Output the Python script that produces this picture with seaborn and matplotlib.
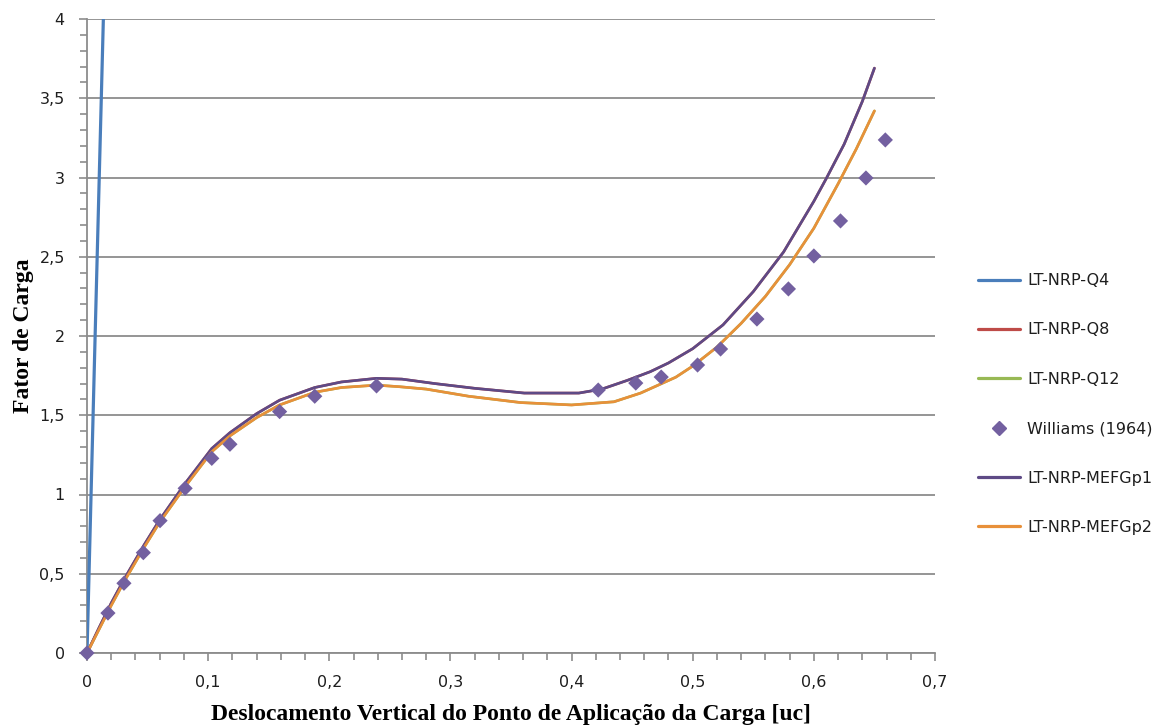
import numpy as np
import pandas as pd
import matplotlib
matplotlib.use("Agg")
import matplotlib.pyplot as plt
import seaborn as sns
from matplotlib.ticker import MultipleLocator, FuncFormatter
from matplotlib.lines import Line2D

# ---------------- data ----------------
q4_x = [0.0, 0.0067, 0.0135, 0.0143]
q4_y = [0.0, 2.0, 4.0, 4.25]

mefgp1_x = [0, 0.01, 0.02, 0.031, 0.047, 0.060, 0.081, 0.103, 0.118, 0.14, 0.159, 0.188,
            0.21, 0.239, 0.26, 0.287, 0.32, 0.361, 0.406, 0.425, 0.446, 0.465, 0.48,
            0.50, 0.525, 0.55, 0.575, 0.60, 0.61, 0.625, 0.64, 0.65]
mefgp1_y = [0, 0.16, 0.315, 0.47, 0.68, 0.84, 1.07, 1.29, 1.39, 1.51, 1.595, 1.675,
            1.71, 1.733, 1.728, 1.70, 1.67, 1.64, 1.64, 1.665, 1.72, 1.775, 1.83,
            1.92, 2.07, 2.28, 2.53, 2.85, 2.99, 3.21, 3.48, 3.69]

mefgp2_x = [0, 0.01, 0.02, 0.031, 0.047, 0.060, 0.081, 0.103, 0.118, 0.14, 0.159, 0.188,
            0.21, 0.239, 0.258, 0.28, 0.315, 0.358, 0.40, 0.435, 0.457, 0.486, 0.50,
            0.52, 0.54, 0.56, 0.58, 0.60, 0.62, 0.635, 0.65]
mefgp2_y = [0, 0.15, 0.30, 0.455, 0.665, 0.825, 1.05, 1.27, 1.37, 1.485, 1.565, 1.645,
            1.675, 1.69, 1.68, 1.665, 1.62, 1.58, 1.565, 1.585, 1.64, 1.74, 1.81,
            1.93, 2.08, 2.25, 2.45, 2.68, 2.96, 3.18, 3.42]

# Q8 and Q12 lie underneath MEFGp1 and MEFGp2 respectively
q8_x = list(mefgp1_x)
q8_y = list(mefgp1_y)
q12_x = list(mefgp2_x)
q12_y = list(mefgp2_y)

williams_x = [0.0, 0.0173, 0.0305, 0.0465, 0.0603, 0.081, 0.103, 0.118, 0.159, 0.188,
              0.239, 0.422, 0.453, 0.474, 0.504, 0.523, 0.553, 0.579, 0.600, 0.622,
              0.643, 0.659]
williams_y = [0.0, 0.252, 0.44, 0.633, 0.835, 1.039, 1.228, 1.317, 1.523, 1.62,
              1.685, 1.659, 1.703, 1.741, 1.817, 1.918, 2.107, 2.297, 2.505, 2.726,
              2.997, 3.237]

labels = ["LT-NRP-Q4", "LT-NRP-Q8", "LT-NRP-Q12", "Williams (1964)",
          "LT-NRP-MEFGp1", "LT-NRP-MEFGp2"]
x_label = "Deslocamento Vertical do Ponto de Aplicação da Carga [uc]"
y_label = "Fator de Carga"

# ---------------- styling ----------------
sns.set_theme(style="white")
plt.rcParams['font.family'] = ['DejaVu Sans']

C_BLUE = "#4A7EBB"
C_RED = "#BE4B48"
C_GREEN = "#98B954"
C_PURPLE_M = "#7360A0"
C_PURPLE = "#5E4A86"
C_ORANGE = "#E8903A"
GRID = "#8C8C8C"
TXT = "#1E1E1E"

fig = plt.figure(figsize=(11.70, 7.26), dpi=100)
ax = fig.add_axes([87 / 1170, 1 - 653 / 726, (935 - 87) / 1170, (653 - 19) / 726])

def line(xs, ys, color, lw, z):
    df = pd.DataFrame({"x": xs, "y": ys})
    sns.lineplot(data=df, x="x", y="y", ax=ax, color=color, linewidth=lw,
                 sort=False, estimator=None, zorder=z)

line(q4_x, q4_y, C_BLUE, 2.3, 3)
line(q8_x, q8_y, C_RED, 1.9, 3)
line(q12_x, q12_y, C_GREEN, 1.9, 3)
line(mefgp1_x, mefgp1_y, C_PURPLE, 1.9, 4)
line(mefgp2_x, mefgp2_y, C_ORANGE, 1.9, 4)

wdf = pd.DataFrame({"x": williams_x, "y": williams_y})
sns.scatterplot(data=wdf, x="x", y="y", ax=ax, marker="D", s=60, color=C_PURPLE_M,
                edgecolor="none", linewidth=0, zorder=5, clip_on=False)

ax.set_xlim(0, 0.7)
ax.set_ylim(0, 4)

ax.xaxis.set_major_locator(MultipleLocator(0.1))
ax.xaxis.set_minor_locator(MultipleLocator(0.02))
ax.yaxis.set_major_locator(MultipleLocator(0.5))
ax.yaxis.set_minor_locator(MultipleLocator(0.1))

def comma_fmt(v, pos):
    s = f"{v:.1f}".rstrip("0").rstrip(".")
    return s.replace(".", ",")

ax.xaxis.set_major_formatter(FuncFormatter(comma_fmt))
ax.yaxis.set_major_formatter(FuncFormatter(comma_fmt))

ax.tick_params(axis="both", which="both", direction="out", color=GRID,
               labelcolor=TXT, labelsize=11.5)
ax.tick_params(axis="both", which="major", length=6, width=1.2, pad=10)
ax.tick_params(axis="both", which="minor", length=5, width=1.2)
ax.tick_params(axis="x", which="both", bottom=True)
ax.tick_params(axis="y", which="both", left=True)

ax.grid(False)
ax.yaxis.grid(True, which="major", color=GRID, linewidth=1.3)
ax.set_axisbelow(True)

for s in ["top", "right"]:
    ax.spines[s].set_visible(False)
for s in ["left", "bottom"]:
    ax.spines[s].set_color(GRID)
    ax.spines[s].set_linewidth(1.3)

ax.set_xlabel(x_label, family="Liberation Serif", fontweight="bold", fontsize=17,
              color="black", labelpad=10)
ax.set_ylabel(y_label, family="Liberation Serif", fontweight="bold", fontsize=17,
              color="black", labelpad=4)

handles = [
    Line2D([], [], color=C_BLUE, lw=2.3),
    Line2D([], [], color=C_RED, lw=2.3),
    Line2D([], [], color=C_GREEN, lw=2.3),
    Line2D([], [], color=C_PURPLE_M, lw=0, marker="D", markersize=7),
    Line2D([], [], color=C_PURPLE, lw=2.3),
    Line2D([], [], color=C_ORANGE, lw=2.3),
]
fig.legend(handles, labels, loc="center left", bbox_to_anchor=(964 / 1170, 1 - 404 / 726),
           frameon=False, fontsize=11.5, labelcolor=TXT, handlelength=2.6,
           handletextpad=0.45, labelspacing=2.15)

fig.savefig("out.png", dpi=100, facecolor="white")
